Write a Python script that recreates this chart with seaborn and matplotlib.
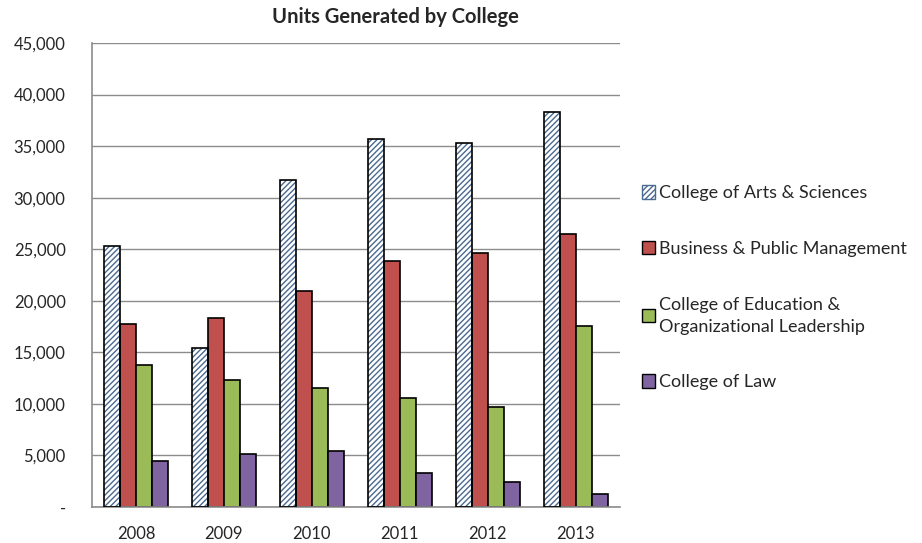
import matplotlib

matplotlib.use("Agg")
import matplotlib.pyplot as plt
import matplotlib.patches as mpatches
import matplotlib.ticker as mticker
import pandas as pd
import seaborn as sns

# data
years = ["2008", "2009", "2010", "2011", "2012", "2013"]
colleges = [
    "College of Arts & Sciences",
    "Business & Public Management",
    "College of Education &\nOrganizational Leadership",
    "College of Law",
]
arts_sciences = [25300, 15450, 31750, 35650, 35300, 38350]
business = [17750, 18300, 20950, 23850, 24650, 26450]
education = [13750, 12300, 11500, 10600, 9700, 17600]
law = [4500, 5100, 5450, 3250, 2400, 1250]

colors = ["white", "#C0504D", "#9BBB59", "#8064A2"]
hatch_color = "#4A6A8F"

df = pd.DataFrame({
    "year": years * 4,
    "college": [c for c in colleges for _ in years],
    "units": arts_sciences + business + education + law,
})

sns.set_style("white")
plt.rcParams["font.family"] = ["Lato", "DejaVu Sans"]

fig = plt.figure(figsize=(9.22, 5.43), dpi=100)
ax = fig.add_axes([0.0998, 0.0663, 0.5722, 0.8545])

sns.barplot(data=df, x="year", y="units", hue="college", hue_order=colleges,
            palette=colors, width=0.73, edgecolor="black", linewidth=1.2,
            saturation=1, errorbar=None, ax=ax, legend=False)

# hatched first series: hatch drawn with edge colour, black outline on top
for bar in ax.containers[0]:
    bar.set_edgecolor(hatch_color)
    bar.set_linewidth(0)
    bar.set_hatch("//////")
    ax.add_patch(mpatches.Rectangle(bar.get_xy(), bar.get_width(), bar.get_height(),
                                    fill=False, edgecolor="black", linewidth=1.2, zorder=3))

ax.set_ylim(0, 45000)
ax.set_xlim(-0.5, 5.5)
ax.yaxis.set_major_locator(mticker.MultipleLocator(5000))
ax.yaxis.set_major_formatter(mticker.FuncFormatter(lambda v, p: "-" if v == 0 else f"{v:,.0f}"))
ax.grid(axis="y", color="#8C8C8C", linewidth=1)
ax.set_axisbelow(True)
ax.set_xlabel("")
ax.set_ylabel("")
for s in ["top", "right"]:
    ax.spines[s].set_visible(False)
for s in ["left", "bottom"]:
    ax.spines[s].set_color("#8C8C8C")
    ax.spines[s].set_linewidth(1.2)
ax.tick_params(axis="y", length=0, labelsize=12, pad=19)
ax.tick_params(axis="x", length=0, labelsize=12, pad=14)

# legend
handles = []
for i, (name, c) in enumerate(zip(colleges, colors)):
    if i == 0:
        h = mpatches.Patch(facecolor="white", edgecolor=hatch_color, hatch="//////", label=name)
    else:
        h = mpatches.Patch(facecolor=c, edgecolor="black", label=name)
    handles.append(h)
leg = fig.legend(handles=handles, loc="center left", bbox_to_anchor=(0.688, 0.47),
                 frameon=False, fontsize=13, labelspacing=2.2, handlelength=0.75,
                 handleheight=0.75, handletextpad=0.2, borderaxespad=0)
leg.get_texts()[2].set_linespacing(1.45)

fig.text(0.429, 0.968, "Units Generated by College", ha="center", va="center",
         fontsize=14.5, fontweight="bold")

fig.savefig("out.png", dpi=100)
